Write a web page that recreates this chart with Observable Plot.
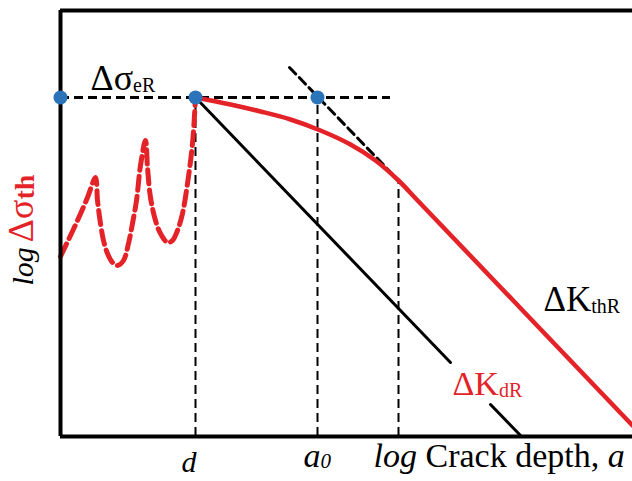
<!DOCTYPE html>
<html><head><meta charset="utf-8">
<script src="https://cdn.jsdelivr.net/npm/d3@7"></script>
<script src="https://cdn.jsdelivr.net/npm/@observablehq/plot@0.6"></script>
<style>body{margin:0;background:#fff}#chart{width:632px;height:481px}</style>
</head><body><div id="chart"></div>
<script>
// Schematic, arbitrary log units: x = log crack depth a, y = log Δσ_th
const xDomain = [0, 572];
const yDomain = [0, 426];
const stressLevel = 339;              // Δσ_eR
const keyX = [0, 135, 257];           // axis, d, a0
const keyY = [339, 339, 339];
const levelDashX = [0, 330];
const guideX = [135, 257, 338];       // d, a0, tangent point
const guideTop = [339, 339, 256];
// ΔK_thR curve (red solid)
const thrX = [135, 170, 200, 230, 260, 290, 315, 338, 360, 572];
const thrY = [339, 332, 325, 317, 306, 292, 276, 256, 233, 11];
// ΔK_dR line (black), split around its label
const dr1X = [135, 390], dr1Y = [339, 74];
const dr2X = [430, 461], dr2Y = [32, 0];
// dashed tangent (asymptote)
const tanX = [229, 340], tanY = [369, 254];
// microstructural barriers (red dashed)
const grainX = [0, 17, 27, 35, 37, 40, 43, 47, 52, 57, 63, 68, 72, 76, 80, 85, 87, 90, 95, 100, 107, 112, 117, 122, 127, 132, 135];
const grainY = [180, 216, 239, 259, 236, 213, 196, 183, 174, 171, 176, 193, 213, 236, 271, 296, 269, 239, 216, 203, 194, 196, 206, 223, 253, 293, 339];

const RED = "#e42328", BLUE = "#2c74b9";
const FONT = "Liberation Serif, Times New Roman, serif";

// label text runs: [text, size, style, weight, color, dy]
const labels = [
  {x: 30, y: 347, r: 0, segs: [["Δσ", 36, "normal", "normal", "#000", 0], ["eR", 20, "normal", "normal", "#000", 2]]},
  {x: 483, y: 126, r: 0, segs: [["ΔK", 35, "normal", "normal", "#000", 0], ["thR", 20, "normal", "normal", "#000", 2]]},
  {x: 392, y: 42, r: 0, segs: [["ΔK", 34, "normal", "normal", RED, 0], ["dR", 20, "normal", "normal", RED, 2]]},
  {x: -28, y: 151, r: -90, segs: [["log", 30, "italic", "normal", "#000", 0], [" ", 20, "normal", "normal", "#000", 0], ["Δσ", 36, "normal", "normal", RED, 0], ["th", 28, "normal", "bold", RED, 1]]},
  {x: 121, y: -35, r: 0, segs: [["d", 30, "italic", "normal", "#000", 0]]},
  {x: 243, y: -30, r: 0, segs: [["a", 34, "italic", "normal", "#000", 0], ["0", 21, "italic", "normal", "#000", 1]]},
  {x: 313, y: -30, r: 0, segs: [["log", 34, "italic", "normal", "#000", 0], [" Crack depth, ", 34, "normal", "normal", "#000", 0], ["a", 34, "italic", "normal", "#000", 0]]}
];

const pts = (xs, ys) => xs.map((x, i) => ({x, y: ys[i]}));

const chart = Plot.plot({
  width: 632, height: 481,
  marginLeft: 60, marginRight: 0, marginTop: 10, marginBottom: 45,
  x: {domain: xDomain, axis: null},
  y: {domain: yDomain, axis: null},
  style: {fontFamily: FONT, background: "#fff"},
  marks: [
    Plot.ruleX(guideX.map((x, i) => ({x, top: guideTop[i]})), {x: "x", y1: 0, y2: "top", stroke: "#000", strokeWidth: 2, strokeDasharray: "9,5"}),
    Plot.ruleY([stressLevel], {x1: levelDashX[0], x2: levelDashX[1], stroke: "#000", strokeWidth: 3, strokeDasharray: "9,5"}),
    Plot.line(pts(tanX, tanY), {x: "x", y: "y", stroke: "#000", strokeWidth: 3, strokeDasharray: "9,5"}),
    Plot.line(pts(dr1X, dr1Y), {x: "x", y: "y", stroke: "#000", strokeWidth: 3}),
    Plot.line(pts(dr2X, dr2Y), {x: "x", y: "y", stroke: "#000", strokeWidth: 3}),
    Plot.line(pts(grainX, grainY), {x: "x", y: "y", stroke: RED, strokeWidth: 5, strokeDasharray: "14,6", curve: "catmull-rom"}),
    Plot.line(pts(thrX, thrY), {x: "x", y: "y", stroke: RED, strokeWidth: 4.5, curve: "catmull-rom"}),
    Plot.ruleX([xDomain[0]], {y1: yDomain[0], y2: yDomain[1], stroke: "#000", strokeWidth: 4}),
    Plot.ruleY([yDomain[0], yDomain[1]], {x1: xDomain[0], x2: xDomain[1], stroke: "#000", strokeWidth: 4}),
    Plot.dot(pts(keyX, keyY), {x: "x", y: "y", r: 7, fill: BLUE, stroke: "none"}),
    Plot.text(labels, {x: "x", y: "y", rotate: "r", text: d => d.segs.map(s => s[0]).join(""),
      textAnchor: "start", lineAnchor: "bottom", fontSize: 32, fill: "#000"})
  ]
});

// turn each label into styled runs (subscripts, colours, italics)
d3.select(chart).selectAll("text").each(function (idx, k) {
  const lab = labels[typeof idx === "number" && labels[idx] ? idx : k];
  if (!lab) return;
  const t = d3.select(this);
  t.text(null);
  let prevDy = 0;
  lab.segs.forEach(([s, size, style, weight, color, dy]) => {
    t.append("tspan").attr("font-size", size).attr("font-style", style).attr("font-weight", weight)
      .attr("fill", color).attr("dy", dy - prevDy).style("white-space", "pre").text(s);
    prevDy = dy;
  });
});
document.getElementById("chart").appendChild(chart);
</script></body></html>
